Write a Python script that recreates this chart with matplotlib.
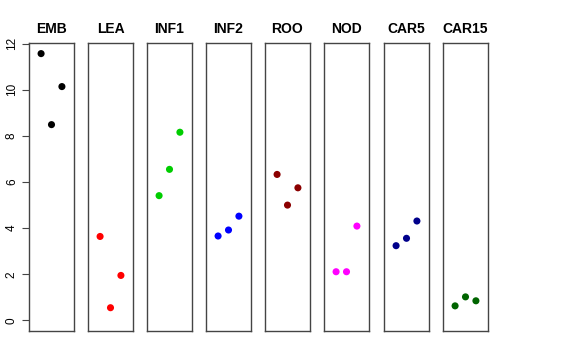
import matplotlib
matplotlib.use('Agg')
import matplotlib.pyplot as plt

plt.rcParams['font.family'] = ['Liberation Sans', 'DejaVu Sans']

# panel names, colours and the three values in each panel
names = ['EMB', 'LEA', 'INF1', 'INF2', 'ROO', 'NOD', 'CAR5', 'CAR15']
colors = ['black', 'red', '#00CD00', 'blue', '#8B0000', 'magenta', '#00008B', '#006400']
emb = [11.57, 8.49, 10.14]
lea = [3.64, 0.55, 1.95]
inf1 = [5.41, 6.55, 8.16]
inf2 = [3.66, 3.92, 4.52]
roo = [6.33, 5.00, 5.75]
nod = [2.11, 2.11, 4.09]
car5 = [3.24, 3.56, 4.31]
car15 = [0.63, 1.02, 0.85]
values = [emb, lea, inf1, inf2, roo, nod, car5, car15]
xs = [1, 2, 3]
yticks = [0, 2, 4, 6, 8, 10, 12]

W, H = 576, 360
fig = plt.figure(figsize=(W / 100, H / 100), dpi=100)

lefts = [29, 88, 147, 206, 265, 324, 384, 443]
pw = 45
top, bottom = 43, 331

for i in range(len(names)):
	ax = fig.add_axes([lefts[i] / W, 1 - bottom / H, pw / W, (bottom - top) / H])
	ax.scatter(xs, values[i], color=colors[i], s=26, zorder=3, edgecolors='none')
	ax.set_xlim(-0.16, 4.16)
	ax.set_ylim(-0.46, 12.03)
	ax.set_xticks([])
	ax.set_title(names[i], fontsize=10, fontweight='bold', pad=7)
	for s in ax.spines.values():
		s.set_color('#444444')
		s.set_linewidth(1.0)
	if i == 0:
		ax.set_yticks(yticks)
		ax.set_yticklabels([str(t) for t in yticks], rotation=90, va='center', fontsize=8.5)
		ax.tick_params(axis='y', length=5, pad=3, color='#444444')
	else:
		ax.set_yticks([])

fig.savefig('out.png', dpi=100)
